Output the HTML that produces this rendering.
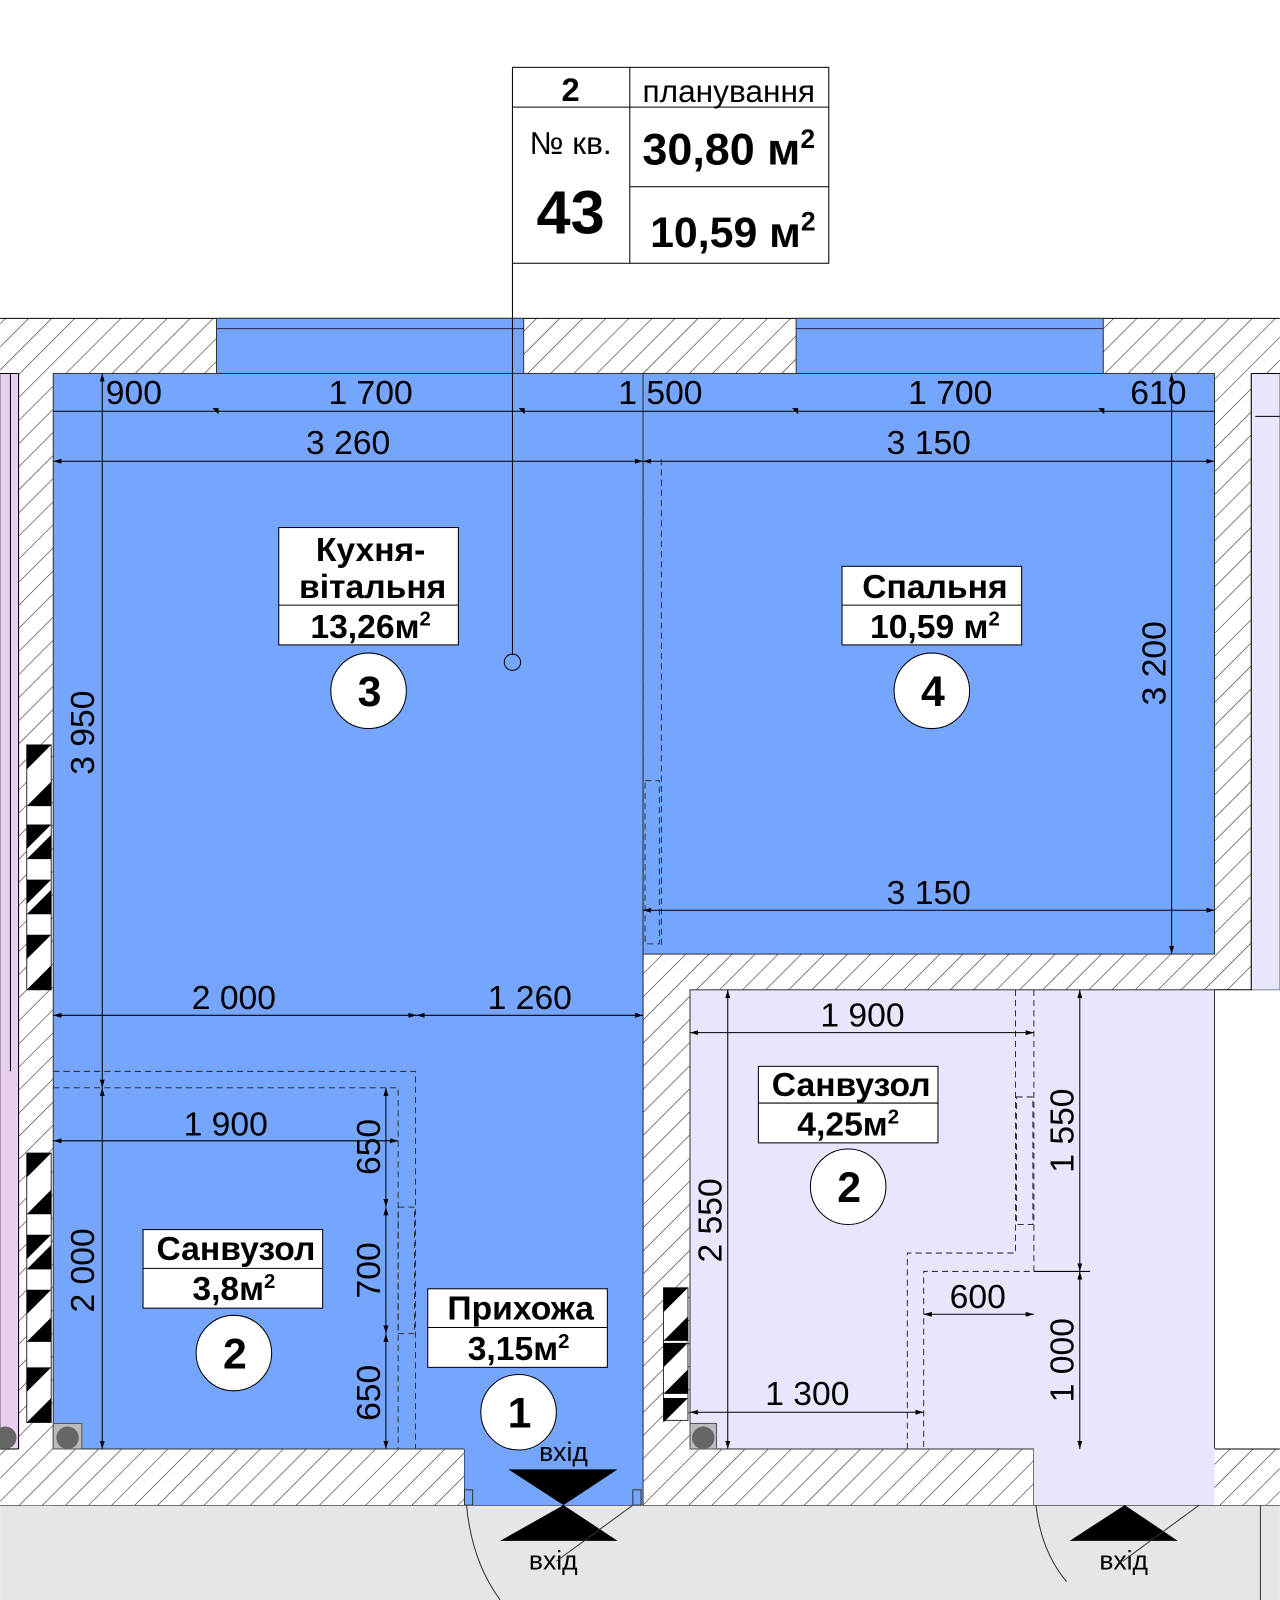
<!DOCTYPE html>
<html><head><meta charset="utf-8"><style>
html,body{margin:0;padding:0;background:#fff}
svg{display:block}
text{font-family:"Liberation Sans",sans-serif}
</style></head><body>
<svg width="1280" height="1600" viewBox="0 0 1254 1568" xmlns="http://www.w3.org/2000/svg">
<defs>
<pattern id="h" width="16" height="16" patternUnits="userSpaceOnUse" patternTransform="rotate(45)">
<rect width="16" height="16" fill="#fff"/><line x1="0" y1="0" x2="0" y2="16" stroke="#333" stroke-width="1.2"/>
</pattern>
<marker id="a" viewBox="0 0 10 10" refX="10" refY="5" markerWidth="8" markerHeight="8" orient="auto-start-reverse"><path d="M0,2 L10,5 L0,8z" fill="#000"/></marker>
</defs>
<rect x="0" y="1475" width="1254" height="93" fill="#e6e6e6"/>
<line x1="0" y1="1475" x2="1254" y2="1475" stroke="#000"/>
<rect x="0" y="366" width="18" height="1054" fill="#e8d0ee" stroke="#888"/>
<rect x="1226" y="366" width="28" height="604" fill="#e6e6fc" stroke="#888"/>
<!-- walls -->
<g fill="url(#h)">
<rect x="0" y="312" width="1254" height="54"/>
<rect x="18" y="312" width="34" height="1163"/>
<rect x="0" y="1420" width="455" height="55"/>
<rect x="630" y="935" width="46" height="540"/>
<rect x="630" y="935" width="596" height="35"/>
<rect x="1190" y="312" width="36" height="658"/>
<rect x="676" y="1420" width="337" height="55"/>
<rect x="1190" y="1420" width="64" height="55"/>
</g>
<g stroke="#000" fill="none">
<line x1="0" y1="312" x2="1254" y2="312"/>
<path d="M18,366 V1420 M0,1420 H18 M455,1420 V1475"/>
<path d="M1226,366 V970 H1190 M1226,366 H1254 M1190,1420 H1254"/>
<path d="M676,1420 H1013 V1475"/>
<path d="M0,366 H18"/>
</g>
<!-- rooms -->
<rect x="52" y="366" width="578" height="1054" fill="#75a5fc" stroke="#333"/>
<rect x="455" y="1400" width="175" height="75" fill="#75a5fc"/>
<line x1="630" y1="935" x2="630" y2="1475" stroke="#333"/>
<rect x="630" y="366" width="560" height="569" fill="#75a5fc" stroke="#333"/>
<rect x="212" y="312" width="301" height="54" fill="#75a5fc" stroke="#333"/>
<rect x="780" y="312" width="301" height="54" fill="#75a5fc" stroke="#333"/>
<line x1="212" y1="322" x2="513" y2="322" stroke="#335"/>
<line x1="780" y1="322" x2="1081" y2="322" stroke="#335"/>
<rect x="676" y="970" width="514" height="450" fill="#e6e6fc" stroke="#333"/>
<rect x="1013" y="1419" width="177" height="56" fill="#e6e6fc"/>
<!-- ventilation blocks -->
<rect x="26" y="730" width="24" height="240" fill="#fff" stroke="#333"/>
<rect x="26" y="1130" width="24" height="264" fill="#fff" stroke="#333"/>
<rect x="650" y="1262" width="24" height="130" fill="#fff" stroke="#333"/>
<g fill="#000">
<path d="M26,730 h24 l-24,24z"/><path d="M26,790 l24,-24 v24z"/><path d="M26,808 h24 l-24,24z"/>
<path d="M26,842 l24,-24 v24z"/><path d="M26,862 h24 l-24,24z"/><path d="M26,896 l24,-24 v24z"/>
<path d="M26,916 h24 l-24,24z"/><path d="M26,970 l24,-24 v24z"/>
<path d="M26,1130 h24 l-24,24z"/><path d="M26,1190 l24,-24 v24z"/><path d="M26,1210 h24 l-24,24z"/>
<path d="M26,1244 l24,-24 v24z"/><path d="M26,1264 h24 l-24,24z"/><path d="M26,1315 l24,-24 v24z"/>
<path d="M26,1340 h24 l-24,24z"/><path d="M26,1394 l24,-24 v24z"/>
<path d="M650,1262 h24 l-24,24z"/><path d="M650,1314 l24,-24 v24z"/><path d="M650,1316 h24 l-24,24z"/><path d="M650,1366 l24,-24 v24z"/><path d="M650,1370 h24 l-24,24z"/>
</g>
<rect x="52" y="1395" width="28" height="25" fill="#bbb" stroke="#555"/><circle cx="66" cy="1409" r="11" fill="#666"/>
<rect x="676" y="1395" width="26" height="25" fill="#bbb" stroke="#555"/><circle cx="689" cy="1409" r="11" fill="#666"/>
<circle cx="5" cy="1409" r="11" fill="#666"/>
<g fill="none" stroke="#333" stroke-dasharray="6,4">
<path d="M52,1050 H407 V1420 M52,1066 H390 V1420"/>
<path d="M630,450 V928 M648,450 V928"/>
<path d="M995,970 V1228 H889 V1420 M1013,970 V1246 H905 V1420"/>
<rect x="996" y="1075" width="16" height="125"/>
<rect x="632" y="765" width="14" height="160"/>
<rect x="390" y="1183" width="16" height="124"/>
</g>
<g stroke="#000" stroke-width="1" fill="none">
<line x1="52" y1="403" x2="1190" y2="403"/>
<line x1="52" y1="452" x2="630" y2="452" marker-start="url(#a)" marker-end="url(#a)"/>
<line x1="630" y1="452" x2="1190" y2="452" marker-start="url(#a)" marker-end="url(#a)"/>
<line x1="630" y1="892" x2="1190" y2="892" marker-start="url(#a)" marker-end="url(#a)"/>
<line x1="52" y1="995" x2="408" y2="995" marker-start="url(#a)" marker-end="url(#a)"/>
<line x1="408" y1="995" x2="630" y2="995" marker-start="url(#a)" marker-end="url(#a)"/>
<line x1="52" y1="1118" x2="390" y2="1118" marker-start="url(#a)" marker-end="url(#a)"/>
<line x1="100" y1="366" x2="100" y2="1066" marker-start="url(#a)" marker-end="url(#a)"/>
<line x1="100" y1="1066" x2="100" y2="1420" marker-start="url(#a)" marker-end="url(#a)"/>
<line x1="378" y1="1066" x2="378" y2="1183" marker-start="url(#a)" marker-end="url(#a)"/>
<line x1="378" y1="1183" x2="378" y2="1307" marker-start="url(#a)" marker-end="url(#a)"/>
<line x1="378" y1="1307" x2="378" y2="1420" marker-start="url(#a)" marker-end="url(#a)"/>
<line x1="1148" y1="366" x2="1148" y2="935" marker-start="url(#a)" marker-end="url(#a)"/>
<line x1="676" y1="1012" x2="1013" y2="1012" marker-start="url(#a)" marker-end="url(#a)"/>
<line x1="1058" y1="970" x2="1058" y2="1246" marker-start="url(#a)" marker-end="url(#a)"/>
<line x1="1058" y1="1246" x2="1058" y2="1420" marker-start="url(#a)" marker-end="url(#a)"/>
<line x1="905" y1="1288" x2="1013" y2="1288" marker-start="url(#a)" marker-end="url(#a)"/>
<line x1="676" y1="1384" x2="905" y2="1384" marker-start="url(#a)" marker-end="url(#a)"/>
<line x1="713" y1="970" x2="713" y2="1420" marker-start="url(#a)" marker-end="url(#a)"/>
<line x1="1013" y1="1246" x2="1068" y2="1246"/>
<line x1="10" y1="366" x2="10" y2="1050"/>
<line x1="1230" y1="408" x2="1254" y2="408"/>
<line x1="502" y1="258" x2="502" y2="642"/>
</g>
<g fill="#000"><path d="M208,400 h6 v6z"/><path d="M508,400 h6 v6z"/><path d="M776,400 h6 v6z"/><path d="M1076,400 h6 v6z"/></g>
<circle cx="502" cy="649" r="8" fill="none" stroke="#000"/>
<g font-size="33" fill="#000" text-anchor="middle">
<text x="131" y="396">900</text><text x="363" y="396">1 700</text><text x="647" y="396">1 500</text>
<text x="931" y="396">1 700</text><text x="1135" y="396">610</text>
<text x="341" y="445">3 260</text><text x="910" y="445">3 150</text>
<text x="910" y="886">3 150</text>
<text x="229" y="989">2 000</text><text x="519" y="989">1 260</text>
<text x="221" y="1113">1 900</text>
<text x="845" y="1006">1 900</text>
<text x="958" y="1282">600</text>
<text x="791" y="1377">1 300</text>
<text transform="translate(92,718) rotate(-90)">3 950</text>
<text transform="translate(92,1245) rotate(-90)">2 000</text>
<text transform="translate(372,1124) rotate(-90)">650</text>
<text transform="translate(372,1245) rotate(-90)">700</text>
<text transform="translate(372,1365) rotate(-90)">650</text>
<text transform="translate(1142,650) rotate(-90)">3 200</text>
<text transform="translate(1052,1108) rotate(-90)">1 550</text>
<text transform="translate(1052,1333) rotate(-90)">1 000</text>
<text transform="translate(707,1196) rotate(-90)">2 550</text>
</g>
<g stroke="#000" fill="#fff">
<rect x="273" y="517" width="176" height="115"/><line x1="273" y1="593" x2="449" y2="593"/>
<rect x="825" y="555" width="176" height="77"/><line x1="825" y1="593" x2="1001" y2="593"/>
<rect x="743" y="1045" width="176" height="75"/><line x1="743" y1="1081" x2="919" y2="1081"/>
<rect x="140" y="1205" width="176" height="77"/><line x1="140" y1="1243" x2="316" y2="1243"/>
<rect x="419" y="1263" width="176" height="77"/><line x1="419" y1="1301" x2="595" y2="1301"/>
<circle cx="361" cy="677" r="37"/><circle cx="913" cy="677" r="37"/>
<circle cx="831" cy="1163" r="37"/><circle cx="229" cy="1326" r="37"/>
<ellipse cx="508" cy="1384" rx="37" ry="37"/>
</g>
<g font-size="33" font-weight="bold" text-anchor="middle" fill="#000">
<text x="363" y="550">Кухня-</text><text x="365" y="586">вітальня</text><text x="363" y="625">13,26м<tspan font-size="20" dy="-12">2</tspan></text>
<text x="916" y="586">Спальня</text><text x="916" y="625">10,59 м<tspan font-size="20" dy="-12">2</tspan></text>
<text x="834" y="1074">Санвузол</text><text x="831" y="1113">4,25м<tspan font-size="20" dy="-12">2</tspan></text>
<text x="231" y="1235">Санвузол</text><text x="229" y="1274">3,8м<tspan font-size="20" dy="-12">2</tspan></text>
<text x="510" y="1293">Прихожа</text><text x="508" y="1333">3,15м<tspan font-size="20" dy="-12">2</tspan></text>
<g font-size="42"><text x="362" y="692">3</text><text x="914" y="692">4</text><text x="832" y="1178">2</text><text x="230" y="1341">2</text><text x="509" y="1399">1</text></g>
</g>
<path d="M498,1440 H605 L552,1475z M552,1475 L605,1510 H490z" fill="#000"/>
<path d="M1102,1475 L1154,1510 H1048z" fill="#000"/>
<g font-size="26" text-anchor="middle"><text x="552" y="1432">вхід</text><text x="542" y="1538">вхід</text><text x="1101" y="1538">вхід</text></g>
<g fill="none" stroke="#333"><path d="M457,1475 Q462,1530 490,1568"/><path d="M620,1475 L545,1530"/><path d="M1015,1475 Q1020,1520 1045,1550"/><path d="M1175,1475 L1100,1530"/><path d="M1235,1475 V1568"/></g>
<rect x="455" y="1460" width="8" height="15" fill="none" stroke="#333"/><rect x="620" y="1460" width="8" height="15" fill="none" stroke="#333"/>
<g stroke="#000" fill="#fff">
<rect x="502" y="66" width="310" height="192"/>
<line x1="617" y1="66" x2="617" y2="258"/><line x1="502" y1="105" x2="812" y2="105"/><line x1="617" y1="183" x2="812" y2="183"/>
</g>
<g text-anchor="middle" fill="#000">
<text x="559" y="99" font-size="32" font-weight="bold">2</text>
<text x="714" y="100" font-size="31">планування</text>
<text x="559" y="151" font-size="31">№ кв.</text>
<text x="559" y="229" font-size="60" font-weight="bold">43</text>
<text x="714" y="161" font-size="44" font-weight="bold">30,80 м<tspan font-size="26" dy="-16">2</tspan></text>
<text x="718" y="242" font-size="42" font-weight="bold">10,59 м<tspan font-size="26" dy="-16">2</tspan></text>
</g>
</svg>
</body></html>
